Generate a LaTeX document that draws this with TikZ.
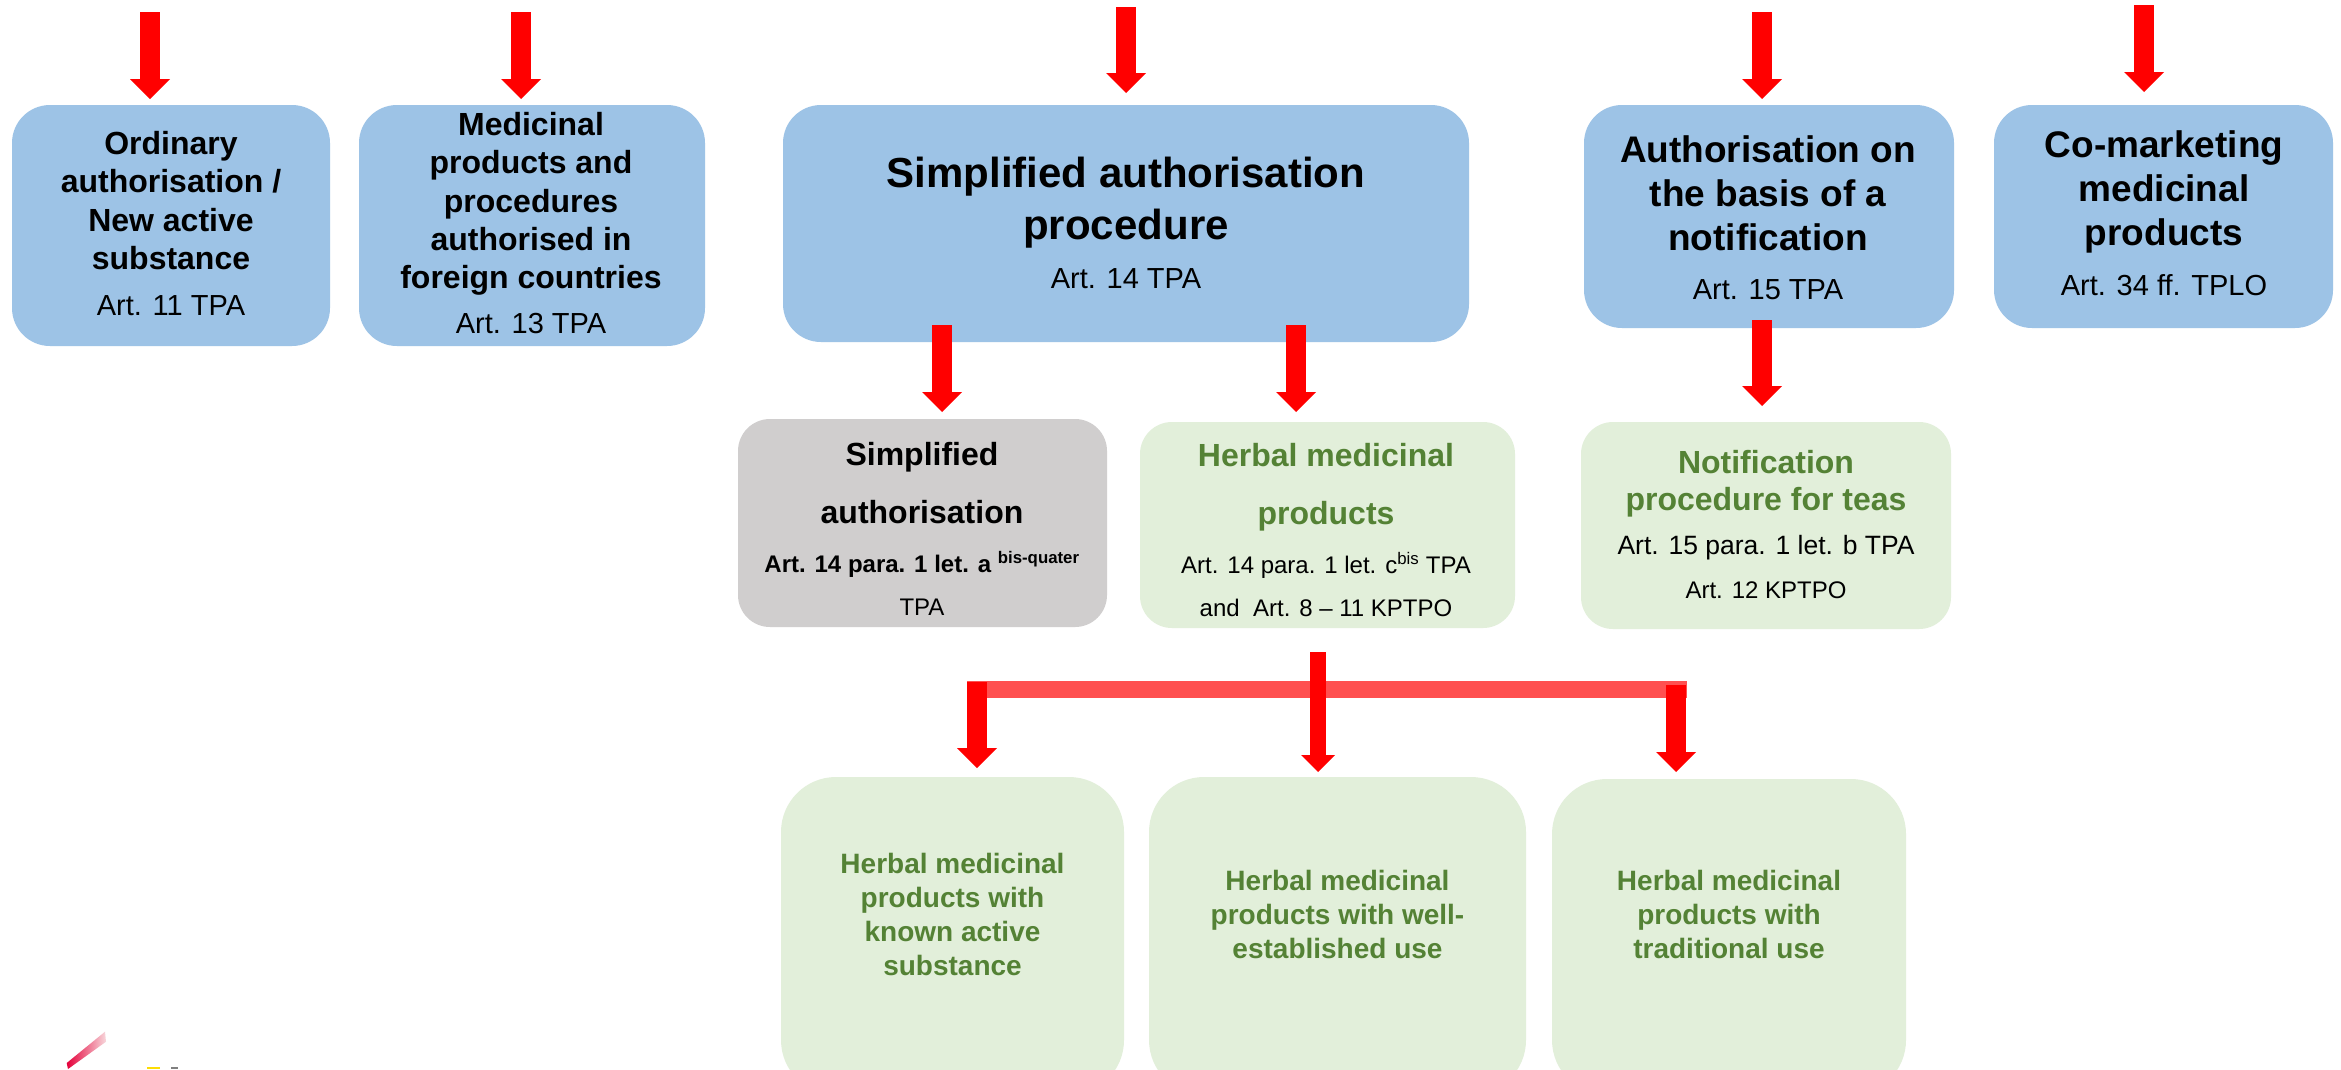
\documentclass[tikz,border=0pt]{standalone}
\usepackage{fontspec}
\setmainfont{Liberation Sans}
\usetikzlibrary{arrows.meta}
\definecolor{boxblue}{HTML}{9DC3E6}
\definecolor{boxgray}{HTML}{D0CECE}
\definecolor{boxgreen}{HTML}{E2EFDA}
\definecolor{txtgreen}{HTML}{548235}
\definecolor{arrred}{HTML}{FF0000}
\definecolor{barred}{HTML}{FF5050}
\definecolor{logored}{HTML}{E4003A}
\definecolor{logopink}{HTML}{F8D8DC}
\begin{document}
\begin{tikzpicture}[x=1pt,y=-1pt,
  box/.style={rectangle, inner sep=0pt, draw=none, rounded corners=38pt},
  bluebox/.style={box, fill=boxblue},
  graybox/.style={box, fill=boxgray, rounded corners=32pt},
  greenbox/.style={box, fill=boxgreen, rounded corners=32pt},
  tallbox/.style={box, fill=boxgreen, rounded corners=55pt},
  ttl/.style={inner sep=0pt, align=center, text=black},
  art/.style={inner sep=0pt, align=center, text=black, font=\fontsize{29}{34}\selectfont},
  gttl/.style={inner sep=0pt, align=center, text=txtgreen},
  blockarrow/.style={draw=arrred, line width=20pt, -{Triangle[length=20pt,width=40pt,line width=0pt]}},
  thinarrow/.style={draw=arrred, line width=16pt, -{Triangle[length=17pt,width=34pt,line width=0pt]}},
  barline/.style={draw=barred, line width=17pt}
]
\fill[white] (0,0) rectangle (2341,1069);
\useasboundingbox (0,0) rectangle (2341,1069);

% top row boxes
\node[bluebox, minimum width=318pt, minimum height=241pt] (b1) at (171,225.5) {};
\node[bluebox, minimum width=346pt, minimum height=241pt] (b2) at (532,225.5) {};
\node[bluebox, minimum width=686pt, minimum height=237pt] (b3) at (1126,223.5) {};
\node[bluebox, minimum width=370pt, minimum height=223pt] (b4) at (1769,216.5) {};
\node[bluebox, minimum width=339pt, minimum height=223pt] (b5) at (2163.5,216.5) {};

% second row boxes
\node[graybox, minimum width=369pt, minimum height=208pt] (g1) at (922.5,523) {};
\node[greenbox, minimum width=375pt, minimum height=206pt] (h1) at (1327.5,525) {};
\node[greenbox, minimum width=370pt, minimum height=207pt] (n1) at (1766,525.5) {};

% bottom boxes
\node[tallbox, minimum width=343pt, minimum height=318pt] (k1) at (952.5,936) {};
\node[tallbox, minimum width=377pt, minimum height=318pt] (k2) at (1337.5,936) {};
\node[tallbox, minimum width=354pt, minimum height=316pt] (k3) at (1729,937) {};

% coordinates for arrows
\coordinate (a1s) at (150,12);   \coordinate (a1e) at (150,99);
\coordinate (a2s) at (521,12);   \coordinate (a2e) at (521,99);
\coordinate (a3s) at (1126,7);   \coordinate (a3e) at (1126,93);
\coordinate (a4s) at (1762,12);  \coordinate (a4e) at (1762,99);
\coordinate (a5s) at (2144,5);   \coordinate (a5e) at (2144,92);
\coordinate (d1s) at (942,325);  \coordinate (d1e) at (942,412);
\coordinate (d2s) at (1296,325); \coordinate (d2e) at (1296,412);
\coordinate (d3s) at (1762,320); \coordinate (d3e) at (1762,406);
\coordinate (hs) at (1318,652);  \coordinate (he) at (1318,772);
\coordinate (bl) at (967,689.5); \coordinate (br) at (1687,689.5);
\coordinate (l1s) at (977,682);  \coordinate (l1e) at (977,768);
\coordinate (r1s) at (1676,685); \coordinate (r1e) at (1676,772);

% connectors
\draw[barline] (bl) -- (br);
\foreach \p in {a1,a2,a3,a4,a5,d1,d2,d3,l1,r1}{
  \draw[blockarrow] (\p s) -- (\p e);
}
\draw[thinarrow] (hs) -- (he);

% texts top row
\node[ttl, font=\fontsize{32}{38.3}\selectfont\bfseries] (b1t) at (171,200.5)
  {Ordinary\\authorisation /\\New active\\substance};
\node[art] (b1a) at (171,306) {Art. 11 TPA};

\node[ttl, font=\fontsize{32}{38.3}\selectfont\bfseries] (b2t) at (531,204)
  {Medicinal\\products and\\procedures\\authorised in\\foreign countries};
\node[art] (b2a) at (531,324) {Art. 13 TPA};

\node[ttl, font=\fontsize{42}{52}\selectfont\bfseries] (b3t) at (1126,202.5)
  {Simplified authorisation\\procedure};
\node[art] (b3a) at (1126,279) {Art. 14 TPA};

\node[ttl, font=\fontsize{37}{44}\selectfont\bfseries] (b4t) at (1768,193)
  {Authorisation on\\the basis of a\\notification};
\node[art] (b4a) at (1768,289.5) {Art. 15 TPA};

\node[ttl, font=\fontsize{37}{44}\selectfont\bfseries] (b5t) at (2164,192)
  {Co-marketing\\medicinal\\products};
\node[art] (b5a) at (2164,285) {Art. 34 ff. TPLO};

% texts second row
\node[ttl, font=\fontsize{32}{58}\selectfont\bfseries] (g1t) at (922,483)
  {Simplified\\authorisation};
\node[ttl, font=\fontsize{24}{43}\selectfont] (g1a) at (922,583)
  {\bfseries Art. 14 para. 1 let. a \textsuperscript{bis-quater}\\TPA};

\node[gttl, font=\fontsize{32}{58}\selectfont\bfseries] (h1t) at (1326,487.5)
  {Herbal medicinal\\products};
\node[ttl, font=\fontsize{24}{43}\selectfont] (h1a) at (1326,584.5)
  {Art. 14 para. 1 let. c\textsuperscript{bis} TPA\\and~~Art. 8 -- 11 KPTPO};

\node[gttl, font=\fontsize{32}{37}\selectfont\bfseries] (n1t) at (1766,483.5)
  {Notification\\procedure for teas};
\node[ttl, font=\fontsize{26.5}{32}\selectfont] (n1a) at (1766,548)
  {Art. 15 para. 1 let. b TPA};
\node[ttl, font=\fontsize{24}{29}\selectfont] (n1b) at (1766,590)
  {Art. 12 KPTPO};

% bottom texts
\node[gttl, font=\fontsize{28}{34}\selectfont\bfseries] (k1t) at (952.5,914)
  {Herbal medicinal\\products with\\known active\\substance};
\node[gttl, font=\fontsize{28}{34}\selectfont\bfseries] (k2t) at (1337.5,914.5)
  {Herbal medicinal\\products with well-\\established use};
\node[gttl, font=\fontsize{28}{34}\selectfont\bfseries] (k3t) at (1729,914.5)
  {Herbal medicinal\\products with\\traditional use};

% logo fragment
\shade[left color=logored, right color=logopink] (66.7,1063) -- (105,1031.7) -- (106,1041.7) -- (68,1069) -- cycle;
\fill[yellow!80!orange] (147,1067) rectangle (160,1069);
\fill[gray] (171,1067) rectangle (178,1069);
\end{tikzpicture}
\end{document}
